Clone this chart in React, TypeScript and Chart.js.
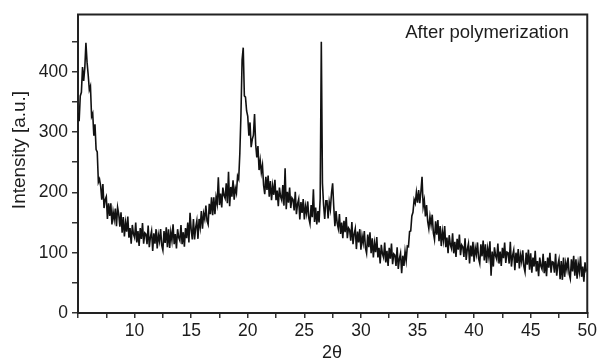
import React, { useEffect, useRef } from "react";
import { Chart, registerables } from "chart.js";

Chart.register(...registerables);

// Scan: 2θ from 5° to 50° in 0.1° steps
const scanStart = 5;
const scanStep = 0.1;

const intensity = [
  332, 318, 360, 366, 408, 385, 406, 448, 416, 395,
  370, 376, 326, 331, 294, 313, 271, 267, 217, 222,
  211, 188, 214, 174, 188, 193, 156, 182, 161, 182,
  147, 168, 155, 173, 144, 175, 164, 143, 167, 133,
  159, 127, 150, 135, 160, 125, 141, 115, 146, 131,
  125, 150, 117, 136, 111, 141, 123, 149, 115, 133,
  131, 114, 145, 109, 126, 136, 103, 132, 115, 139,
  107, 130, 119, 139, 112, 104, 136, 116, 142, 109,
  139, 108, 134, 120, 147, 114, 131, 107, 139, 125,
  120, 146, 114, 134, 110, 141, 124, 150, 117, 166,
  138, 122, 156, 122, 142, 153, 123, 156, 142, 169,
  140, 165, 156, 178, 153, 147, 181, 164, 192, 162,
  192, 164, 192, 181, 225, 179, 198, 175, 208, 195,
  190, 215, 182, 234, 177, 209, 193, 220, 188, 207,
  199, 227, 222, 265, 330, 420, 440, 360, 358, 335,
  326, 294, 316, 275, 288, 295, 330, 280, 258, 277,
  237, 253, 233, 245, 212, 197, 226, 204, 228, 193,
  219, 187, 211, 196, 221, 187, 203, 177, 208, 193,
  187, 212, 178, 240, 172, 201, 183, 208, 174, 191,
  188, 170, 201, 164, 181, 189, 155, 184, 166, 189,
  155, 177, 165, 185, 157, 148, 179, 159, 205, 151,
  175, 147, 169, 150, 190, 450, 215, 179, 156, 186,
  186, 157, 184, 172, 199, 215, 176, 144, 169, 149,
  140, 164, 131, 150, 124, 153, 134, 159, 124, 141,
  138, 120, 151, 114, 131, 140, 106, 135, 117, 139,
  105, 128, 116, 136, 108, 99, 130, 109, 134, 99,
  124, 92, 116, 101, 126, 92, 108, 82, 113, 98,
  92, 117, 84, 103, 78, 108, 90, 115, 81, 98,
  96, 78, 109, 73, 90, 99, 66, 95, 78, 102,
  87, 111, 110, 135, 136, 161, 167, 188, 182, 200,
  183, 204, 182, 201, 226, 176, 187, 160, 179, 152,
  140, 160, 146, 163, 133, 122, 152, 130, 154, 119,
  144, 111, 135, 120, 144, 109, 125, 99, 129, 113,
  107, 132, 99, 118, 93, 123, 105, 130, 96, 113,
  110, 93, 124, 88, 106, 115, 82, 112, 94, 118,
  85, 108, 97, 117, 90, 82, 114, 94, 120, 87,
  114, 83, 107, 93, 119, 62, 102, 77, 109, 95,
  89, 115, 82, 102, 78, 108, 91, 117, 83, 101,
  100, 82, 118, 77, 95, 104, 71, 100, 83, 106,
  74, 96, 85, 104, 77, 68, 100, 80, 105, 72,
  99, 67, 92, 77, 103, 69, 86, 61, 92, 78,
  73, 98, 66, 86, 61, 92, 75, 100, 67, 85,
  84, 67, 98, 62, 80, 89, 56, 86, 55, 92,
  60, 83, 72, 92, 65, 57, 89, 69, 95, 62,
  89, 57, 82, 68, 94, 60, 77, 52, 84, 70,
  73,
];

const xTickValues = [5, 7.5, 10, 12.5, 15, 17.5, 20, 22.5, 25, 27.5, 30, 32.5, 35, 37.5, 40, 42.5, 45, 47.5, 50];
const xTickLabels = [10, 15, 20, 25, 30, 35, 40, 45, 50];
const yTickValues = [0, 50, 100, 150, 200, 250, 300, 350, 400, 450];
const yTickLabels = [0, 100, 200, 300, 400];

const annotationText = "After polymerization";
const xTitle = "2θ";
const yTitle = "Intensity [a.u.]";

const FONT = "'Liberation Sans', Arial, Helvetica, sans-serif";
const INK = "#1c1c1c";

export default function App() {
  const ref = useRef<HTMLCanvasElement>(null);

  useEffect(() => {
    if (!ref.current) return;
    const points = intensity.map((v, i) => ({
      x: Math.round((scanStart + i * scanStep) * 100) / 100,
      y: v,
    }));

    const framePlugin = {
      id: "frameAndText",
      afterDraw(chart: any) {
        const { ctx, chartArea: a } = chart;
        ctx.save();
        ctx.strokeStyle = "#222";
        ctx.lineWidth = 2;
        ctx.beginPath();
        ctx.moveTo(a.left - 1, a.top);
        ctx.lineTo(a.right, a.top);
        ctx.lineTo(a.right, a.bottom + 1);
        ctx.stroke();

        ctx.fillStyle = INK;
        ctx.textAlign = "center";
        ctx.textBaseline = "middle";
        ctx.font = `18.5px ${FONT}`;
        ctx.fillText(annotationText, 487, 33);
        ctx.font = `18px ${FONT}`;
        ctx.fillText(xTitle, 332, 353);
        ctx.translate(20, 150);
        ctx.rotate(-Math.PI / 2);
        ctx.font = `19px ${FONT}`;
        ctx.fillText(yTitle, 0, 0);
        ctx.restore();
      },
    };

    const chart = new Chart(ref.current, {
      type: "line",
      data: {
        datasets: [
          {
            data: points,
            borderColor: "#111",
            borderWidth: 1.6,
            pointRadius: 0,
            tension: 0,
            fill: false,
          },
        ],
      },
      options: {
        animation: false,
        responsive: true,
        maintainAspectRatio: false,
        layout: { padding: { top: 14, right: 8, left: 0, bottom: 0 } },
        plugins: {
          legend: { display: false },
          tooltip: { enabled: false },
        },
        scales: {
          x: {
            type: "linear",
            min: 5,
            max: 50,
            afterBuildTicks: (s: any) => {
              s.ticks = xTickValues.map((v) => ({ value: v }));
            },
            afterFit: (s: any) => {
              s.height = 48;
            },
            ticks: {
              autoSkip: false,
              maxRotation: 0,
              padding: 3,
              color: INK,
              font: { family: FONT, size: 17.5 },
              callback: (v: any) => (xTickLabels.includes(Number(v)) ? String(v) : ""),
            },
            grid: {
              drawOnChartArea: false,
              drawTicks: true,
              tickLength: 5,
              color: "#333",
              lineWidth: 1.5,
            },
            border: { display: true, color: "#222", width: 2 },
          },
          y: {
            type: "linear",
            min: 0,
            max: 495,
            afterBuildTicks: (s: any) => {
              s.ticks = yTickValues.map((v) => ({ value: v }));
            },
            afterFit: (s: any) => {
              s.width = 78;
            },
            ticks: {
              autoSkip: false,
              padding: 4,
              color: INK,
              font: { family: FONT, size: 17.5 },
              callback: (v: any) => (yTickLabels.includes(Number(v)) ? String(v) : ""),
            },
            grid: {
              drawOnChartArea: false,
              drawTicks: true,
              tickLength: 6,
              color: "#333",
              lineWidth: 1.5,
            },
            border: { display: true, color: "#222", width: 2 },
          },
        },
      },
      plugins: [framePlugin],
    });

    return () => chart.destroy();
  }, []);

  return (
    <div style={{ position: "fixed", left: 0, top: 0, width: 600, height: 361, background: "#fff" }}>
      <canvas ref={ref} />
    </div>
  );
}
